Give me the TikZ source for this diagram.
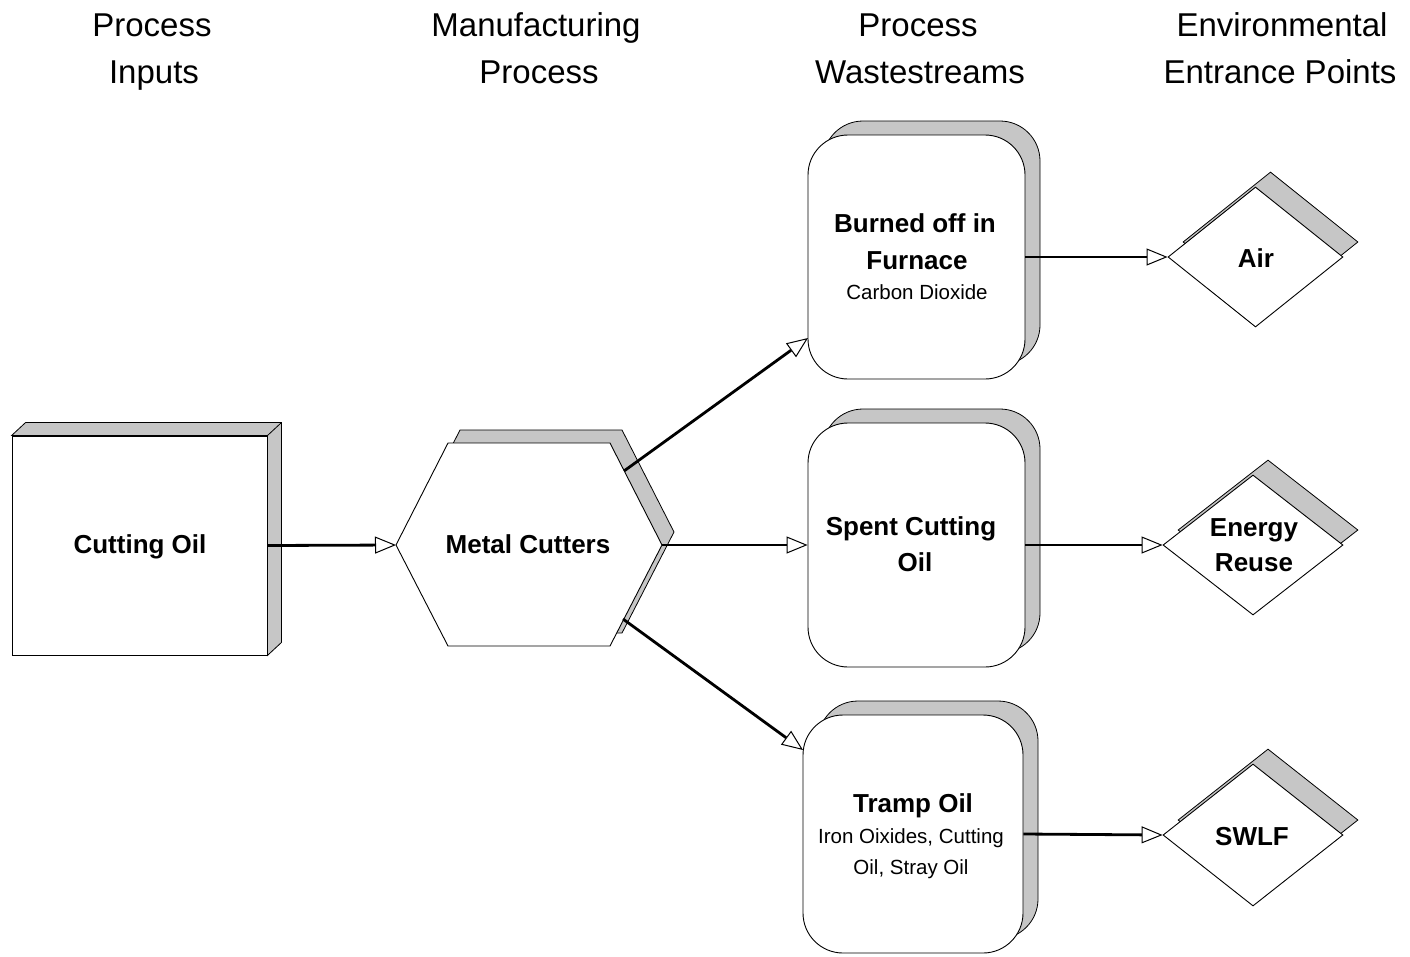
\documentclass[tikz,border=0pt]{standalone}
\usepackage{fontspec}
\setmainfont{Liberation Sans}
\usetikzlibrary{arrows.meta,shapes.geometric}
\begin{document}
\begin{tikzpicture}[x=1pt,y=-1pt,
  shadow/.style={fill=gray!45, draw=black, line width=0.8pt},
  face/.style={fill=white, draw=black, line width=0.9pt, inner sep=0pt},
  rbox/.style={rectangle, rounded corners=40pt, minimum width=217pt, minimum height=244pt, inner sep=0pt},
  dia/.style={diamond, minimum width=178pt, minimum height=140pt, inner sep=0pt},
  hdr/.style={font=\fontsize{33}{40}\selectfont, anchor=base, inner sep=0pt},
  lbl/.style={font=\bfseries\fontsize{26}{32}\selectfont, anchor=base, inner sep=0pt},
  sub/.style={font=\fontsize{20.5}{24}\selectfont, anchor=base, inner sep=0pt},
  conn/.style={line width=2.8pt, -{Triangle[length=21pt,width=17pt,fill=white,line width=1pt]}}]
\useasboundingbox (0,0) rectangle (1410,956);

% ---------- headers ----------
\node[hdr] (h1a) at (152,36) {Process};
\node[hdr] (h1b) at (154,83) {Inputs};
\node[hdr] (h2a) at (536,36) {Manufacturing};
\node[hdr] (h2b) at (539,83) {Process};
\node[hdr] (h3a) at (918,36) {Process};
\node[hdr] (h3b) at (920,83) {Wastestreams};
\node[hdr] (h4a) at (1282,36) {Environmental};
\node[hdr] (h4b) at (1280,83) {Entrance Points};

% ---------- Cutting Oil box ----------
\node[face, rectangle, minimum width=255pt, minimum height=219pt] (co) at (139.5,545.5) {};
\draw[shadow] (co.north west) -- ++(14,-13) -- ([shift={(14,-13)}]co.north east)
  -- ([shift={(14,-13)}]co.south east) -- (co.south east) -- (co.north east) -- cycle;
\draw[line width=0.8pt] (co.north east) -- ++(14,-13);

% ---------- Hexagon ----------
\coordinate (hL) at (396,545);
\coordinate (hTL) at (448,443);
\coordinate (hTR) at (610,443);
\coordinate (hR) at (662,545);
\coordinate (hBR) at (610,646);
\coordinate (hBL) at (448,646);
\begin{scope}[shift={(12,-13)}]
\draw[shadow] (396,545) -- (448,443) -- (610,443) -- (662,545) -- (610,646) -- (448,646) -- cycle;
\end{scope}
\draw[face] (hL) -- (hTL) -- (hTR) -- (hR) -- (hBR) -- (hBL) -- cycle;
\coordinate (hUR) at (624,471);
\coordinate (hLR) at (623,619);

% ---------- Wastestream boxes ----------
\node[rbox, shadow] (bo-s) at (931.5,243) {};
\node[rbox, face] (bo) at (916.5,257) {};
\node[rbox, shadow] (sp-s) at (931.5,531) {};
\node[rbox, face] (sp) at (916.5,545) {};
\node[rbox, shadow, minimum width=220pt, minimum height=238pt] (tr-s) at (928,820) {};
\node[rbox, face, minimum width=220pt, minimum height=238pt] (tr) at (913,834) {};
\coordinate (boin) at (808,338);
\coordinate (trin) at (803,750);

% ---------- Diamonds ----------
\node[dia, shadow, minimum width=175pt] (air-s) at (1270.5,242) {};
\node[dia, face, minimum width=175pt] (air) at (1255.5,257) {};
\node[dia, shadow, minimum width=180pt] (en-s) at (1268,530) {};
\node[dia, face, minimum width=180pt] (en) at (1253,545) {};
\node[dia, shadow, minimum width=180pt, minimum height=142pt] (sw-s) at (1268,820) {};
\node[dia, face, minimum width=180pt, minimum height=142pt] (sw) at (1253,835) {};

% ---------- Connectors ----------
\draw[conn] (co.east) -- (hL);
\draw[conn] (hUR) -- (boin);
\draw[conn] (hR) -- (sp.west);
\draw[conn] (hLR) -- (trin);
\draw[conn] (bo.east) -- (air.west);
\draw[conn] (sp.east) -- (en.west);
\draw[conn] (tr.east) -- (sw.west);

% ---------- Labels ----------
\node[lbl] (tco) at (140,553) {Cutting Oil};
\node[lbl] (tmc) at (528,553) {Metal Cutters};
\node[lbl] (tbo1) at (915,232) {Burned off in};
\node[lbl] (tbo2) at (917,269) {Furnace};
\node[sub] (tbo3) at (917,299) {Carbon Dioxide};
\node[lbl] (tsp1) at (911,535) {Spent Cutting};
\node[lbl] (tsp2) at (915,571) {Oil};
\node[lbl] (ttr1) at (913,812) {Tramp Oil};
\node[sub] (ttr2) at (911,843) {Iron Oixides, Cutting};
\node[sub] (ttr3) at (911,874) {Oil, Stray Oil};
\node[lbl] (tair) at (1256,267) {Air};
\node[lbl] (ten1) at (1254,536) {Energy};
\node[lbl] (ten2) at (1254,571) {Reuse};
\node[lbl] (tsw) at (1252,845) {SWLF};
\end{tikzpicture}
\end{document}
